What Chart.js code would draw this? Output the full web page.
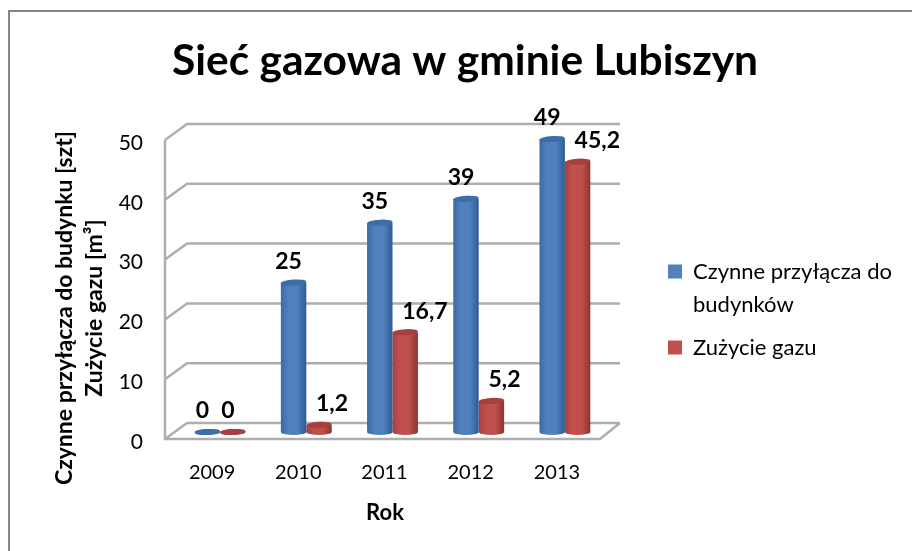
<!DOCTYPE html>
<html>
<head>
<meta charset="utf-8">
<style>
html, body { margin: 0; padding: 0; background: #fff; }
canvas { display: block; }
</style>
<script src="https://cdn.jsdelivr.net/npm/chart.js@4"></script>
</head>
<body>
<canvas id="chart" width="912" height="551"></canvas>
<script>
const years = ["2009", "2010", "2011", "2012", "2013"];
const connections = [0, 25, 35, 39, 49];
const gasUse = [0, 1.2, 16.7, 5.2, 45.2];
const connectionsLabel = ["Czynne przyłącza do", "budynków"];
const gasUseLabel = "Zużycie gazu";
const yTitleLines = ["Czynne przyłącza do budynku [szt]", "Zużycie gazu [m³]"];
const xTitle = "Rok";
const chartTitle = "Sieć gazowa w gminie Lubiszyn";

const FONT = "Lato, 'Open Sans', sans-serif";
const WALL = "#aeaeae";

function cylinderGradient(ctx, bar, shades) {
    const left = bar.x - bar.width / 2;
    const g = ctx.createLinearGradient(left, 0, left + bar.width, 0);
    g.addColorStop(0, shades[0]);
    g.addColorStop(0.3, shades[1]);
    g.addColorStop(0.65, shades[1]);
    g.addColorStop(1, shades[2]);
    return g;
}

const SHADES = [
    ["#3a6ba3", "#4f81bd", "#2f5c91", "#3d6da6"],
    ["#a8413e", "#c0504d", "#8f3431", "#a5403d"],
];

// back wall, left wall and floor of the fake 3D box
const wallsPlugin = {
    id: "walls",
    beforeDatasetsDraw(chart) {
        const { ctx, chartArea, scales } = chart;
        const backL = chartArea.left + 10, backR = chartArea.right + 12;
        const frontL = chartArea.left - 12, frontR = chartArea.right - 8;
        ctx.save();
        ctx.strokeStyle = WALL;
        ctx.lineWidth = 2.5;
        ctx.beginPath();
        scales.y.ticks.forEach(t => {
            const y = scales.y.getPixelForValue(t.value);
            ctx.moveTo(backR, y - 9);
            ctx.lineTo(backL, y - 9);
            ctx.lineTo(frontL, y + 7);
        });
        const y0 = scales.y.getPixelForValue(0), y50 = scales.y.getPixelForValue(50);
        ctx.moveTo(frontL, y50 + 7);
        ctx.lineTo(frontL, y0 + 7);
        ctx.lineTo(frontR, y0 + 7);
        ctx.lineTo(backR, y0 - 9);
        ctx.stroke();
        ctx.restore();

        // cylinder shading and the rounded foot of every bar
        chart.data.datasets.forEach((ds, i) => {
            chart.getDatasetMeta(i).data.forEach(bar => {
                const g = cylinderGradient(ctx, bar, SHADES[i]);
                bar.options = Object.assign({}, bar.options, { backgroundColor: g });
                ctx.save();
                ctx.fillStyle = g;
                ctx.beginPath();
                ctx.ellipse(bar.x, y0, bar.width / 2, 3, 0, 0, Math.PI * 2);
                ctx.fill();
                ctx.restore();
            });
        });
    },
    afterDatasetsDraw(chart) {
        const { ctx } = chart;
        chart.data.datasets.forEach((ds, i) => {
            chart.getDatasetMeta(i).data.forEach(bar => {
                ctx.save();
                ctx.fillStyle = SHADES[i][3];
                ctx.beginPath();
                ctx.ellipse(bar.x, bar.y, bar.width / 2, 3, -0.06, 0, Math.PI * 2);
                ctx.fill();
                ctx.restore();
            });
        });
    },
};

// value labels; Excel left them off-centre so they are nudged here
const valueLabelsPlugin = {
    id: "valueLabels",
    afterDraw(chart) {
        const { ctx } = chart;
        ctx.save();
        ctx.font = "bold 23px " + FONT;
        ctx.fillStyle = "#000";
        ctx.textBaseline = "middle";
        chart.data.datasets.forEach((ds, i) => {
            chart.getDatasetMeta(i).data.forEach((bar, j) => {
                const v = ds.data[j];
                const text = String(v).replace(".", ",");
                if (i === 0 || v === 0) {
                    ctx.textAlign = "center";
                    ctx.fillText(text, bar.x - 5, bar.y - 21);
                } else {
                    ctx.textAlign = "left";
                    ctx.fillText(text, bar.x - 3, bar.y - 21);
                }
            });
        });
        ctx.restore();
    },
};

// frame, axis titles (they sit off-centre of the plot in the original)
const frameAndTitlesPlugin = {
    id: "frameAndTitles",
    afterLayout(chart) {
        chart.legend.left = 658;
        chart.legend.right = chart.width;
        chart.legend.top += 21;
        chart.legend.bottom += 21;
    },
    beforeDraw(chart) {
        const { ctx, width, height } = chart;
        ctx.save();
        ctx.strokeStyle = "#868686";
        ctx.lineWidth = 2;
        ctx.strokeRect(9, 11, width, height);
        ctx.restore();
    },
    afterDraw(chart) {
        const { ctx } = chart;
        ctx.save();
        ctx.fillStyle = "#000";
        ctx.textAlign = "center";
        ctx.textBaseline = "middle";
        ctx.font = "bold 22px " + FONT;
        ctx.fillText(xTitle, 385, 513);
        ctx.font = "bold 23px " + FONT;
        ctx.translate(65, 308);
        ctx.rotate(-Math.PI / 2);
        ctx.fillText(yTitleLines[0], 0, 0);
        ctx.fillText(yTitleLines[1], 0, 30);
        ctx.restore();
    },
};

new Chart(document.getElementById("chart"), {
    type: "bar",
    data: {
        labels: years,
        datasets: [
            { label: connectionsLabel, data: connections, backgroundColor: "#4f81bd" },
            { label: gasUseLabel, data: gasUse, backgroundColor: "#c0504d" },
        ],
    },
    plugins: [wallsPlugin, valueLabelsPlugin, frameAndTitlesPlugin],
    options: {
        responsive: false,
        animation: false,
        layout: { padding: { left: 101, right: 83, top: 36, bottom: 10 } },
        datasets: { bar: { categoryPercentage: 0.59, barPercentage: 1 } },
        scales: {
            x: {
                grid: { display: false },
                border: { display: false },
                afterFit(s) { s.height = 109; },
                ticks: {
                    color: "#000",
                    font: { family: FONT, size: 20 },
                    padding: 21,
                    labelOffset: -8,
                    maxRotation: 0,
                    autoSkip: false,
                },
            },
            y: {
                min: 0,
                max: 50,
                grid: { display: false },
                border: { display: false },
                afterFit(s) { s.width = 76; },
                ticks: {
                    stepSize: 10,
                    color: "#000",
                    font: { family: FONT, size: 21 },
                    padding: 26,
                    labelOffset: 10,
                },
            },
        },
        plugins: {
            tooltip: { enabled: false },
            title: {
                display: true,
                text: chartTitle,
                color: "#000",
                font: { family: FONT, size: 42.5, weight: "bold" },
                padding: { top: 0, bottom: 46 },
            },
            legend: {
                position: "right",
                maxWidth: 221,
                labels: {
                    boxWidth: 14,
                    boxHeight: 14,
                    padding: 10,
                    color: "#000",
                    font: { family: FONT, size: 22, lineHeight: 1.5 },
                },
            },
        },
    },
});
</script>
</body>
</html>
